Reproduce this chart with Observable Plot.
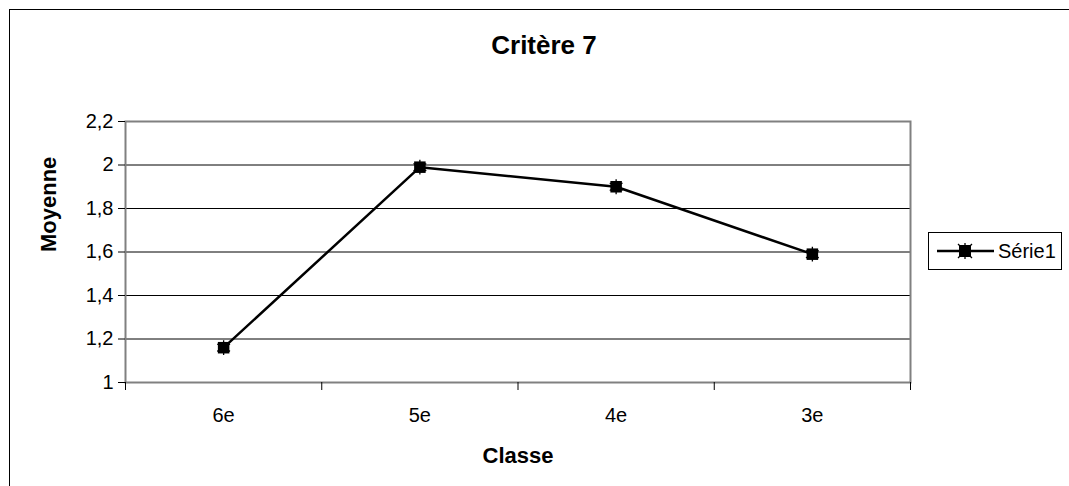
<!DOCTYPE html>
<html>
<head>
<meta charset="utf-8">
<script src="https://cdn.jsdelivr.net/npm/d3@7"></script>
<script src="https://cdn.jsdelivr.net/npm/@observablehq/plot@0.6"></script>
<style>
  body { margin: 0; background: #fff; font-family: "Liberation Sans", Arial, sans-serif; }
  #wrap { position: relative; width: 1069px; height: 486px; overflow: hidden; }
  #border { position: absolute; left: 9px; top: 9px; width: 1100px; height: 600px; border-left: 1px solid #000; border-top: 1px solid #000; }
  #legend { position: absolute; left: 928px; top: 232px; width: 134px; height: 38px; border: 1px solid #000; box-sizing: border-box; display: flex; align-items: center; background: #fff; }
  #legend span { font-size: 20px; margin-left: 2px; }
  #chart { position: absolute; left: 0; top: 0; }
</style>
</head>
<body>
<div id="wrap">
  <div id="border"></div>
  <div id="chart"></div>
  <div id="legend">
    <svg width="60" height="20" style="margin-left:7px">
      <line x1="1" y1="10" x2="58" y2="10" stroke="#000" stroke-width="2.5"/>
      <rect x="23" y="4" width="12" height="12" fill="#000"/>
      <path d="M22,3 L36,17 M22,17 L36,3 M29,2 L29,18" stroke="#000" stroke-width="1.3"/>
    </svg>
    <span>Série1</span>
  </div>
</div>
<script>
const categories = ["6e", "5e", "4e", "3e"];
const values = [1.16, 1.99, 1.90, 1.59];
const yTicks = [1, 1.2, 1.4, 1.6, 1.8, 2, 2.2];
const title = "Critère 7";
const xTitle = "Classe";
const yTitle = "Moyenne";

const data = categories.map((c, i) => ({ cat: c, idx: i + 0.5, value: values[i] }));
const bounds = d3.range(categories.length + 1);
const centers = categories.map((c, i) => i + 0.5);
const fmt = d => String(Math.round(d * 10) / 10).replace(".", ",");

const chart = Plot.plot({
  width: 1069,
  height: 486,
  marginLeft: 125,
  marginRight: 159,
  marginTop: 121,
  marginBottom: 104,
  style: { fontSize: "20px", fontFamily: "Liberation Sans, Arial, sans-serif", color: "#000", background: "transparent" },
  x: { type: "linear", domain: [0, categories.length] },
  y: { domain: [1, 2.2] },
  marks: [
    Plot.gridY(yTicks, { stroke: "#000", strokeOpacity: 1, strokeWidth: 1 }),
    Plot.frame({ stroke: "#808080", strokeWidth: 2 }),
    Plot.axisY({ ticks: yTicks, tickFormat: fmt, tickSize: 7, tickPadding: 5, label: null, stroke: "#000", fontSize: 20 }),
    Plot.axisX({ ticks: bounds, tickFormat: () => "", tickSize: 8, label: null, stroke: "#000" }),
    Plot.axisX({ ticks: centers, tickFormat: d => categories[Math.floor(d)], tickSize: 0, tickPadding: 25, label: null, fontSize: 20 }),
    Plot.line(data, { x: "idx", y: "value", stroke: "#000", strokeWidth: 2.5 }),
    Plot.dot(data, { x: "idx", y: "value", symbol: "square", r: 6.5, fill: "#000", stroke: "none" }),
    Plot.dot(data, { x: "idx", y: "value", symbol: "asterisk", r: 7, stroke: "#000", strokeWidth: 1.3 }),
    Plot.text([title], { frameAnchor: "top", lineAnchor: "middle", dx: 26, dy: -76, fontSize: 26, fontWeight: "bold", fill: "#000" }),
    Plot.text([xTitle], { frameAnchor: "bottom", lineAnchor: "middle", dy: 73, fontSize: 22, fontWeight: "bold", fill: "#000" }),
    Plot.text([yTitle], { frameAnchor: "left", lineAnchor: "middle", dx: -77, rotate: -90, fontSize: 22, fontWeight: "bold", fill: "#000" })
  ]
});
document.getElementById("chart").appendChild(chart);
</script>
</body>
</html>
